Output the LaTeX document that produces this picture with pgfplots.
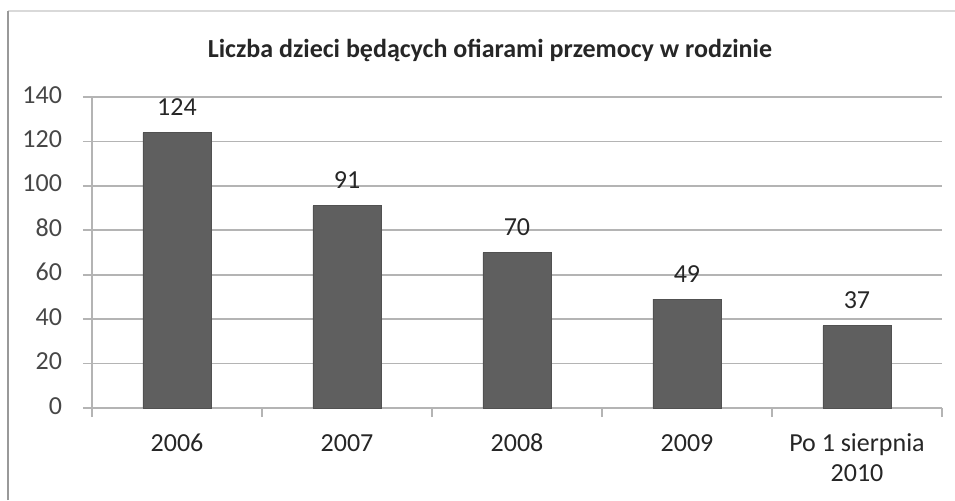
\documentclass[border=0pt]{standalone}
\usepackage{pgfplots}
\pgfplotsset{compat=1.18}
\usepackage{fontspec}
\setmainfont{Carlito}
\definecolor{barc}{HTML}{5F5F5F}
\definecolor{gridc}{HTML}{B4B4B4}
\definecolor{txt}{HTML}{262626}
\begin{document}
\begin{tikzpicture}
\useasboundingbox (0,0) rectangle (477.5pt,250pt);
\draw[gray!30, line width=0.8pt] (4pt,244.5pt) -- (477.5pt,244.5pt);
\draw[gray!80, line width=1pt] (4pt,0pt) -- (4pt,244.5pt);
\node[font=\bfseries\fontsize{13}{15}\selectfont, text=txt] at (245pt,225pt) {Liczba dzieci będących ofiarami przemocy w rodzinie};
\begin{axis}[
  at={(46pt,46pt)}, anchor=south west,
  scale only axis, width=425pt, height=155.5pt,
  xmin=-0.5, xmax=4.5, ymin=0, ymax=140,
  ytick={0,20,...,140},
  xtick={0,1,2,3,4},
  xticklabels={2006,2007,2008,2009,{Po 1 sierpnia\\2010}},
  minor xtick={-0.5,0.5,1.5,2.5,3.5,4.5},
  axis line style={gridc, line width=0.8pt},
  axis x line*=bottom, axis y line*=left,
  ymajorgrids, major grid style={gridc, line width=0.8pt},
  tick align=outside,
  major tick length=4.5pt, minor tick length=4.5pt,
  x tick style={draw=none}, minor x tick style={draw=gridc, line width=0.8pt},
  y tick style={gridc, line width=0.8pt},
  typeset ticklabels with strut,
  xticklabel style={align=center, font=\fontsize{13}{15}\selectfont, text=txt, yshift=-3pt},
  yticklabel style={font=\fontsize{13}{15}\selectfont, text=txt!85, xshift=-7pt},
  /pgf/number format/assume math mode=true,
  ybar, bar width=34pt,
  nodes near coords,
  every node near coord/.append style={font=\fontsize{13}{15}\selectfont, text=txt, yshift=5pt},
  clip=false,
]
\addplot[fill=barc, draw=barc!85!black] coordinates {(0,124) (1,91) (2,70) (3,49) (4,37)};
\end{axis}
\end{tikzpicture}
\end{document}
